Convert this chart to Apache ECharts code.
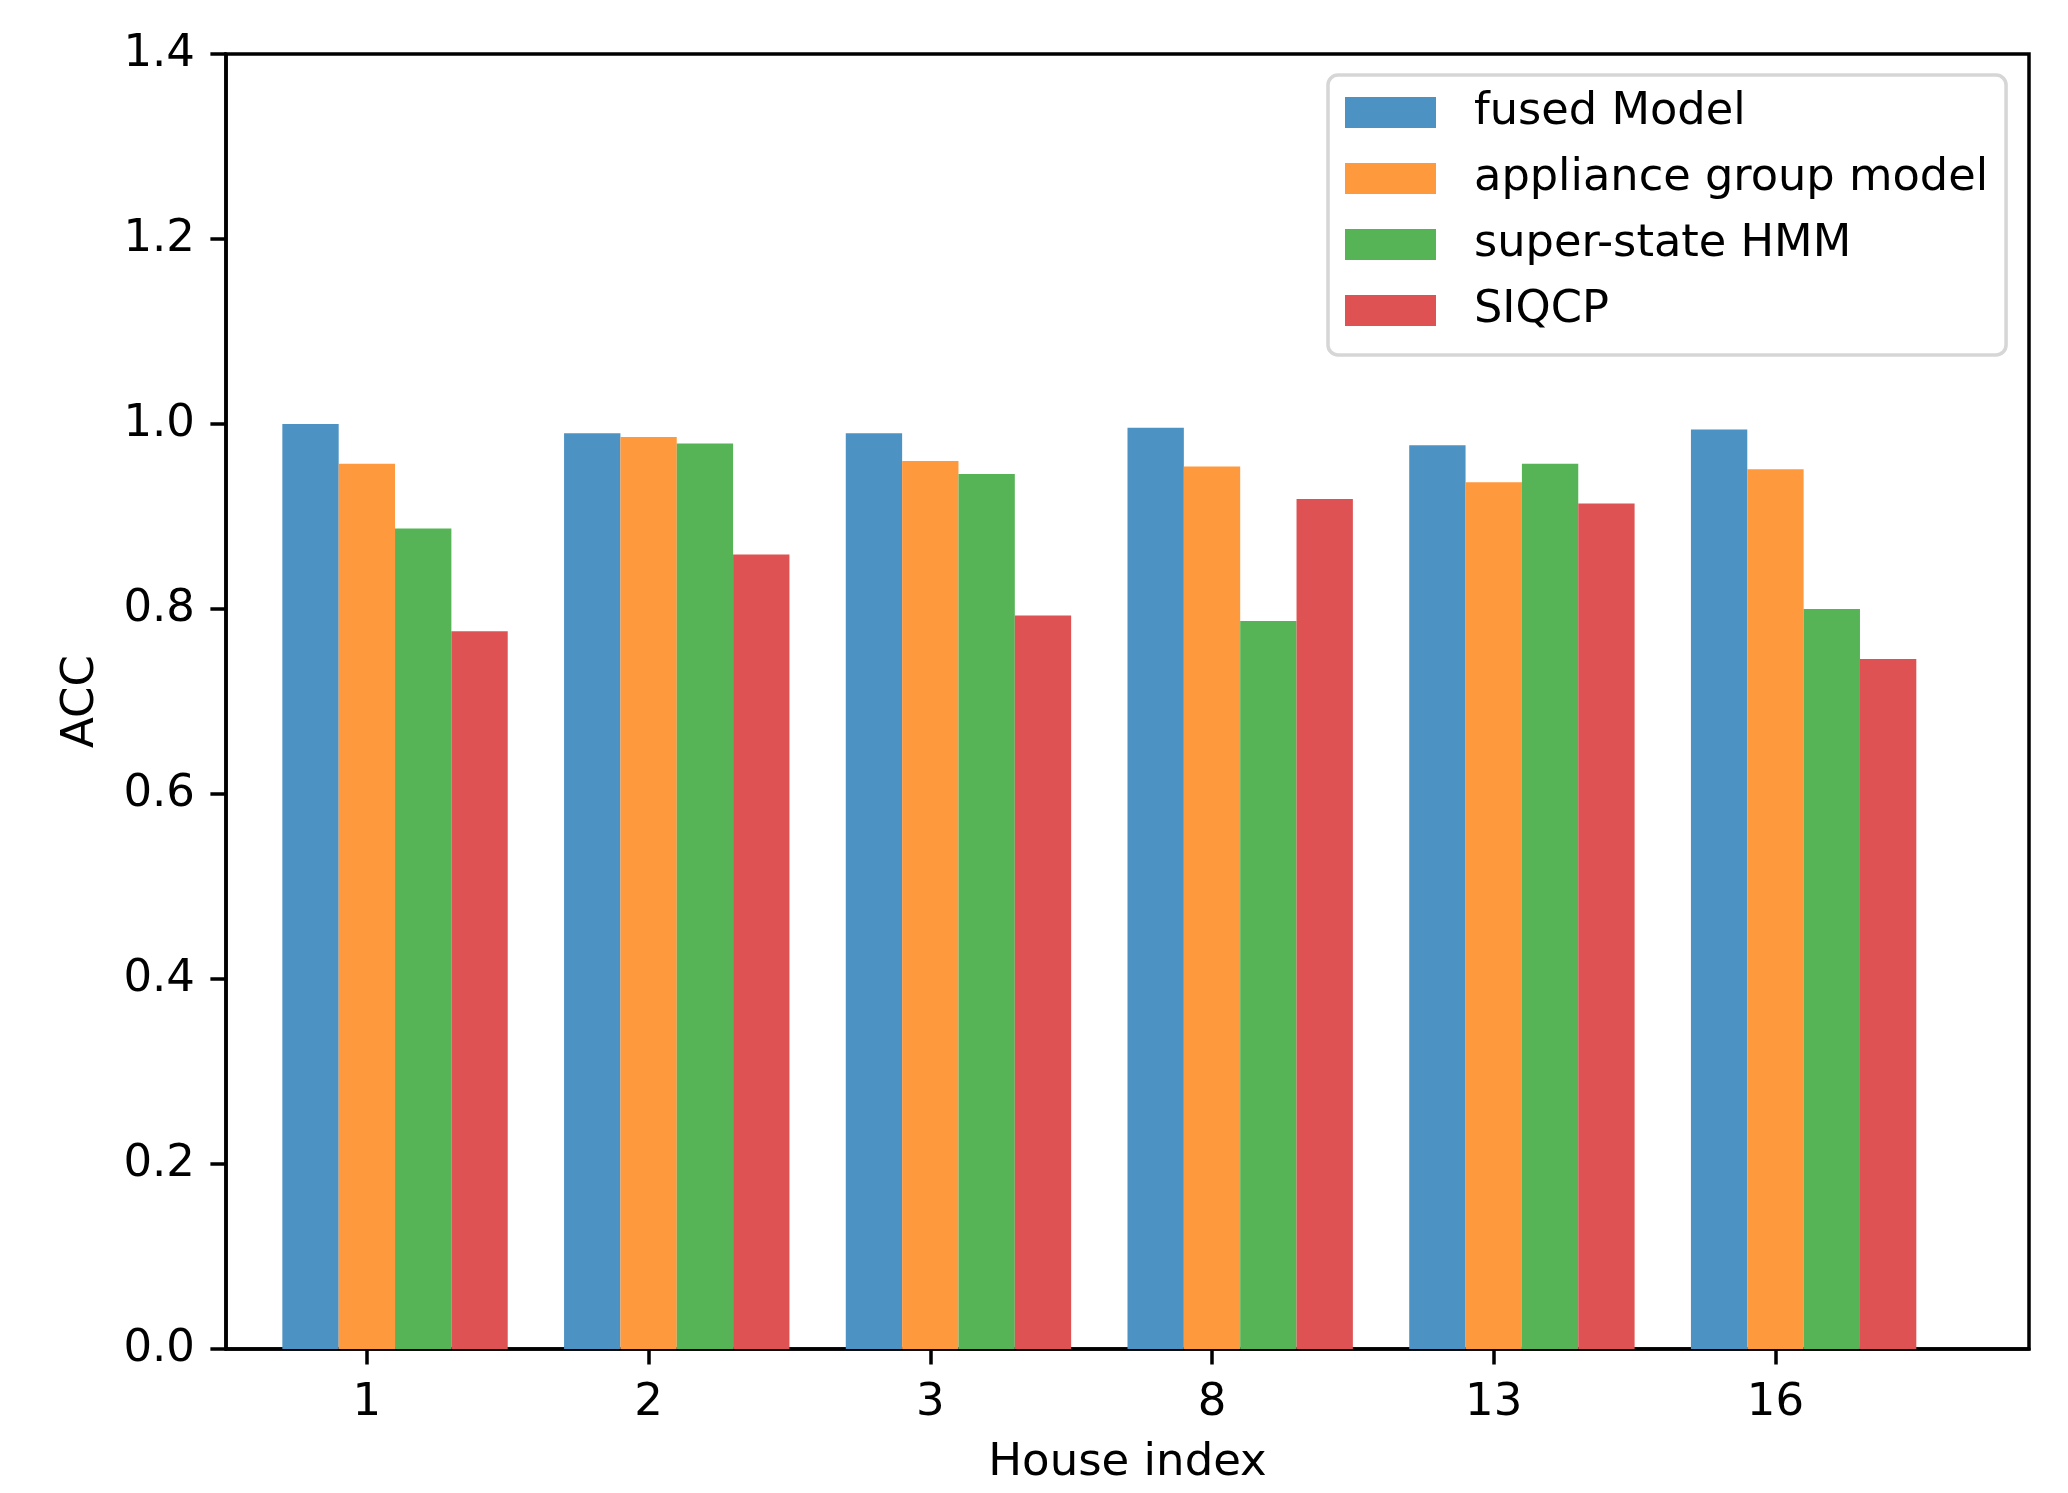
<!DOCTYPE html>
<html>
<head>
<meta charset="utf-8">
<script src="https://cdn.jsdelivr.net/npm/echarts@6/dist/echarts.min.js"></script>
<style>html,body{margin:0;padding:0;background:#fff;}#c{width:2068px;height:1493px;}</style>
</head>
<body>
<div id="c"></div>
<script>
const houses = ['1', '2', '3', '8', '13', '16'];
const seriesNames = ['fused Model', 'appliance group model', 'super-state HMM', 'SIQCP'];
const fusedModel = [1.000, 0.990, 0.990, 0.996, 0.977, 0.994];
const applianceGroup = [0.957, 0.986, 0.960, 0.954, 0.937, 0.951];
const superStateHMM = [0.887, 0.979, 0.946, 0.787, 0.957, 0.800];
const siqcp = [0.776, 0.859, 0.793, 0.919, 0.914, 0.746];
const yTicks = [0, 0.2, 0.4, 0.6, 0.8, 1.0, 1.2, 1.4];

const colors = ['#4c92c3', '#ff993e', '#56b356', '#de5253'];
const allValues = [fusedModel, applianceGroup, superStateHMM, siqcp];
const FONT = 'DejaVu Sans';
const FS = 45;

const tickPos = houses.map((_, i) => i - 0.1);

const chart = echarts.init(document.getElementById('c'), null, {renderer: 'canvas'});
chart.setOption({
  animation: false,
  backgroundColor: '#ffffff',
  textStyle: {fontFamily: FONT},
  grid: {left: 226, right: 39, top: 54, bottom: 144, show: true, borderColor: '#000', borderWidth: 3.5, backgroundColor: 'transparent'},
  legend: {
    orient: 'vertical', left: 1328, top: 75,
    data: seriesNames,
    icon: 'rect', itemWidth: 91, itemHeight: 31, itemGap: 21,
    padding: [15, 18, 22, 17],
    borderColor: '#d6d6d6', borderWidth: 3.5, borderRadius: 10,
    backgroundColor: 'rgba(255,255,255,0.8)',
    textStyle: {fontFamily: FONT, fontSize: 44.7, color: '#000', lineHeight: 45, padding: [0, 0, 0, 33]}
  },
  xAxis: {
    type: 'value', min: -0.6, max: 5.8,
    name: 'House index', nameLocation: 'middle', nameGap: 92,
    nameTextStyle: {fontFamily: FONT, fontSize: FS, color: '#000'},
    axisLine: {show: true, onZero: false, lineStyle: {color: '#000', width: 3.5}},
    axisTick: {show: true, length: 15.6, lineStyle: {color: '#000', width: 3.5}, customValues: tickPos},
    axisLabel: {fontFamily: FONT, fontSize: FS, color: '#000', margin: 32, customValues: tickPos,
      formatter: v => houses[Math.round(v + 0.1)]},
    splitLine: {show: false}
  },
  yAxis: {
    type: 'value', min: 0, max: 1.4, interval: 0.2,
    name: 'ACC', nameLocation: 'middle', nameGap: 122,
    nameTextStyle: {fontFamily: FONT, fontSize: FS, color: '#000'},
    axisLine: {show: true, onZero: false, lineStyle: {color: '#000', width: 3.5}},
    axisTick: {show: true, length: 15.6, lineStyle: {color: '#000', width: 3.5}, customValues: yTicks},
    axisLabel: {fontFamily: FONT, fontSize: FS, color: '#000', margin: 31, customValues: yTicks,
      formatter: v => v.toFixed(1)},
    splitLine: {show: false}
  },
  series: seriesNames.map((name, k) => ({
    name: name,
    type: 'bar',
    barGap: '0%',
    barCategoryGap: '20%',
    itemStyle: {color: colors[k]},
    data: allValues[k].map((v, i) => [i, v])
  }))
});
</script>
</body>
</html>
